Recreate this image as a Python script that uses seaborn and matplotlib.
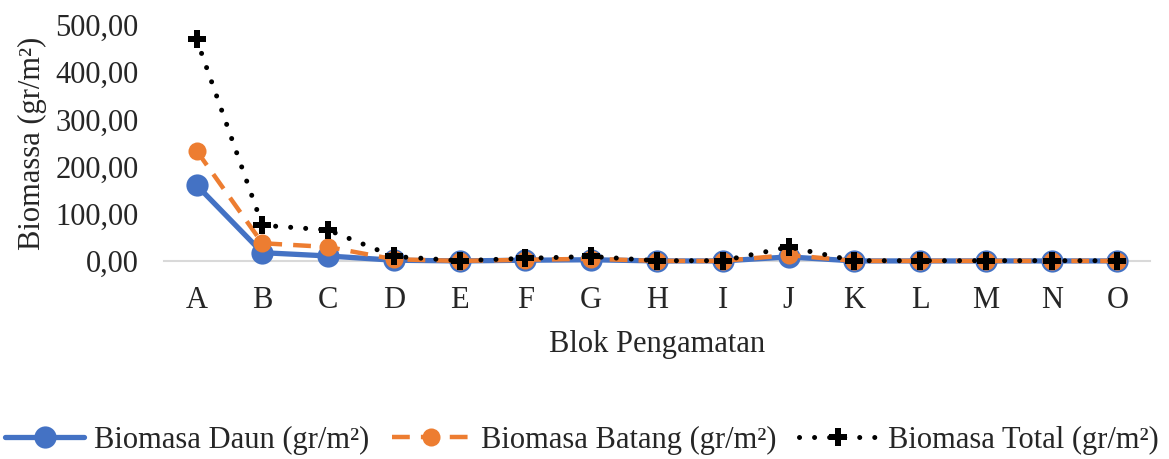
import pandas as pd
import matplotlib.pyplot as plt
import seaborn as sns

blok = ["A", "B", "C", "D", "E", "F", "G", "H", "I", "J", "K", "L", "M", "N", "O"]
daun = [161, 18, 11, 2, 0.5, 2, 3, 0.5, 0.5, 9, 0.5, 0.5, 0.5, 0.5, 0.5]
batang = [234, 38, 30, 4, 0.5, 3, 5, 0.5, 0.5, 13, 0.5, 0.5, 0.5, 0.5, 0.5]
total = [470, 76, 66, 10, 1, 6, 10, 1, 1, 30, 1, 1, 1, 1, 1]

sns.set_style("white")
plt.rcParams['font.family'] = ['Liberation Serif', 'DejaVu Serif']

fig = plt.figure(figsize=(11.69, 4.59), dpi=100)
ax = fig.add_axes([0.140, 0.431, 0.844, 0.5145])

df = pd.DataFrame({"Blok": blok, "Daun": daun, "Batang": batang, "Total": total})

sns.lineplot(data=df, x="Blok", y="Daun", ax=ax, sort=False, color="#4472C4",
             linewidth=3.8, marker="o", markersize=16, markeredgewidth=0,
             label="Biomasa Daun (gr/m²)", clip_on=False)
sns.lineplot(data=df, x="Blok", y="Batang", ax=ax, sort=False, color="#ED7D31",
             linewidth=3.2, marker="o", markersize=13, markeredgewidth=0,
             dashes=False, label="Biomasa Batang (gr/m²)", clip_on=False)
sns.lineplot(data=df, x="Blok", y="Total", ax=ax, sort=False, color="black",
             linewidth=3.6, marker="P", markersize=13, markeredgewidth=0,
             label="Biomasa Total (gr/m²)", clip_on=False)

lines = ax.get_lines()
lines[1].set_dashes((4.0, 2.5))
lines[2].set_dashes((0.01, 3.0))
lines[2].set_dash_capstyle("round")

ax.set_xlim(-0.5, len(blok) - 0.5)
ax.set_ylim(0, 500)
ax.set_yticks([0, 100, 200, 300, 400, 500])
ax.set_yticklabels(["0,00", "100,00", "200,00", "300,00", "400,00", "500,00"])
ax.tick_params(axis="both", labelsize=22, length=0)
ax.tick_params(axis="x", pad=18)
ax.tick_params(axis="y", pad=18)
for s in ["top", "right", "left"]:
    ax.spines[s].set_visible(False)
ax.spines["bottom"].set_color("#D9D9D9")
ax.spines["bottom"].set_linewidth(1.5)
ax.spines["bottom"].set_zorder(0)

ax.set_xlabel("Blok Pengamatan", fontsize=22, labelpad=11)
ax.set_ylabel("Biomassa (gr/m²)", fontsize=22, labelpad=6)

leg = ax.legend(loc="center", bbox_to_anchor=(0.424, -0.758), ncol=3, frameon=False,
                fontsize=22, handlelength=2.6, columnspacing=0.72, handletextpad=0.33)
for h in leg.get_lines():
    h.set_clip_on(False)

fig.savefig("out.png", dpi=100)
